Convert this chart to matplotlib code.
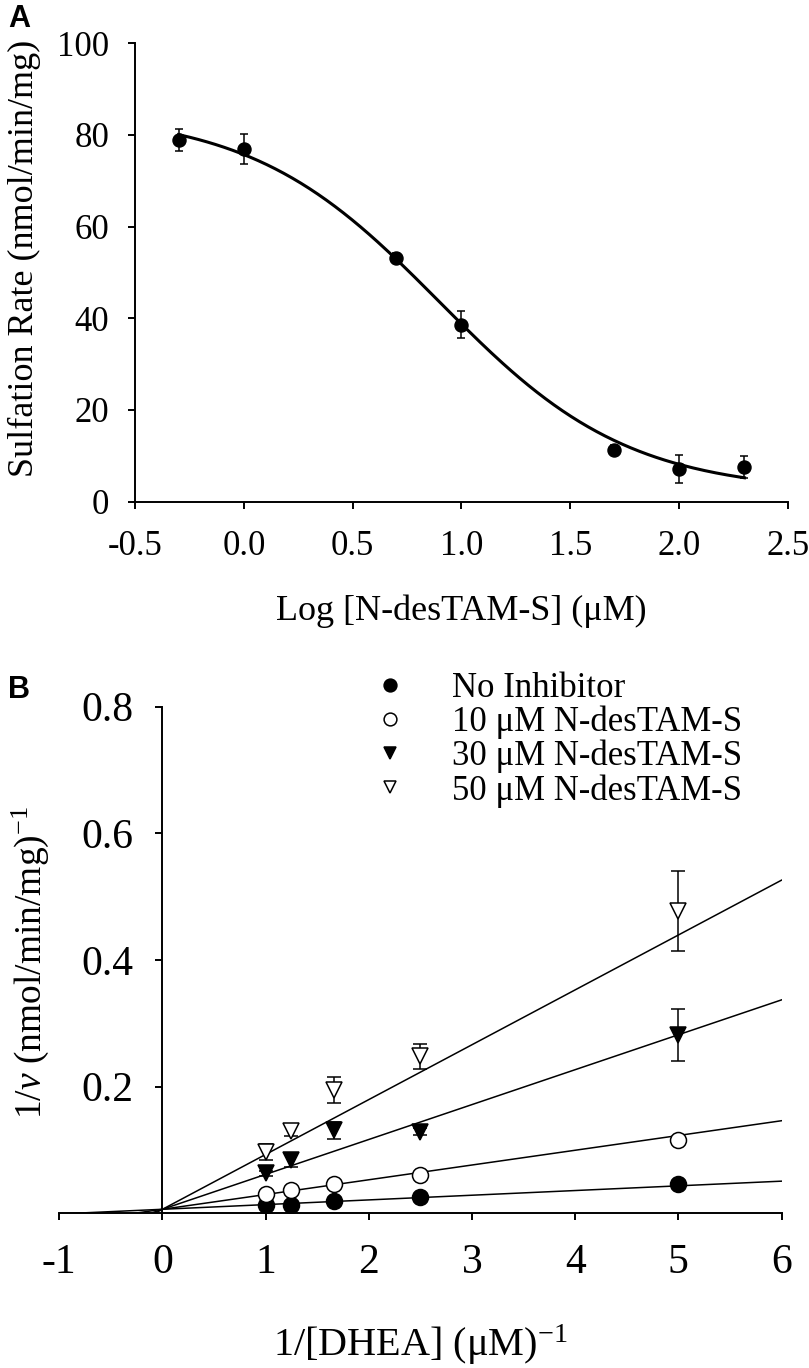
import numpy as np
import matplotlib
matplotlib.use('Agg')
import matplotlib.pyplot as plt

plt.rcParams['font.family'] = ['Liberation Serif', 'DejaVu Serif']
plt.rcParams['axes.unicode_minus'] = False
plt.rcParams['mathtext.fontset'] = 'custom'
plt.rcParams['mathtext.rm'] = 'Liberation Serif'
plt.rcParams['mathtext.it'] = 'Liberation Serif:italic'

# panel A: inhibition curve
log_conc = [-0.3, 0.0, 0.7, 1.0, 1.7, 2.0, 2.3]
rate = [78.9, 76.9, 53.2, 38.6, 11.3, 7.1, 7.5]
rate_err = [2.4, 3.3, 1.0, 2.9, 1.0, 3.0, 2.4]
# fitted sigmoid (top, bottom, log IC50, hill slope)
fit_top, fit_bottom, fit_logic50, fit_hill = 85.0, 2.0, 0.9, 1.0

# panel B: double reciprocal plot
inv_dhea = [1.0, 1.25, 1.667, 2.5, 5.0]
series_labels = ['No Inhibitor', '10 μM N-desTAM-S',
                 '30 μM N-desTAM-S', '50 μM N-desTAM-S']
inv_v_none = [0.014, 0.014, 0.020, 0.026, 0.047]
inv_v_10 = [0.031, 0.037, 0.046, 0.061, 0.116]
inv_v_30 = [0.063, 0.084, 0.131, 0.129, 0.282]
inv_v_50 = [0.097, 0.130, 0.195, 0.248, 0.478]
err_none = [0.002, 0.002, 0.002, 0.002, 0.003]
err_10 = [0.003, 0.003, 0.003, 0.004, 0.005]
err_30 = [0.004, 0.010, 0.014, 0.006, 0.041]
err_50 = [0.012, 0.008, 0.021, 0.020, 0.063]
fit_slopes = [0.0074, 0.0233, 0.0551, 0.0866]
fit_intercepts = [0.0065, 0.0065, 0.0065, 0.0065]

W, H = 809, 1368
fig = plt.figure(figsize=(W / 100, H / 100), dpi=100)


def box(left, right, top, bottom):
    return [left / W, 1 - bottom / H, (right - left) / W, (bottom - top) / H]


# ---------- panel A ----------
axA = fig.add_axes(box(135, 788, 43.3, 501.5))
xs = np.linspace(log_conc[0], log_conc[-1], 200)
curve = fit_bottom + (fit_top - fit_bottom) / (1 + 10 ** ((xs - fit_logic50) * fit_hill))
axA.plot(xs, curve, color='black', lw=2.2)
axA.errorbar(log_conc, rate, yerr=rate_err, fmt='o', color='black',
             ms=9.4, elinewidth=1.1, capsize=3.2, capthick=1.1)
axA.set_xlim(-0.5, 2.5)
axA.set_ylim(0, 100)
axA.set_xticks([-0.5, 0.0, 0.5, 1.0, 1.5, 2.0, 2.5])
axA.set_xticklabels(['%.1f' % v for v in axA.get_xticks()])
axA.set_yticks([0, 20, 40, 60, 80, 100])
for s in ['top', 'right']:
    axA.spines[s].set_visible(False)
for s in ['left', 'bottom']:
    axA.spines[s].set_linewidth(1.4)
axA.tick_params(axis='both', direction='out', length=4.7, width=1.4, labelsize=25)
axA.tick_params(axis='y', pad=14)
axA.tick_params(axis='x', pad=16)
fig.text(24 / W, 1 - 258 / H, 'Sulfation Rate (nmol/min/mg)', rotation=90,
         ha='center', va='center', fontsize=26)
fig.text(461 / W, 1 - 611 / H, 'Log [N-desTAM-S] (μM)', ha='center', va='center',
         fontsize=26)
fig.text(8 / W, 1 - 19 / H, 'A', family='Liberation Sans', weight='bold',
         fontsize=22, ha='left', va='center')

# ---------- panel B ----------
axB = fig.add_axes(box(59.3, 781.5, 706.7, 1213.4))
series_y = [inv_v_none, inv_v_10, inv_v_30, inv_v_50]
series_err = [err_none, err_10, err_30, err_50]
markers = ['o', 'o', 'v', 'v']
faces = ['black', 'white', 'black', 'white']
line_x = np.array([-1.0, 6.0])
for slope, icpt in zip(fit_slopes, fit_intercepts):
    axB.plot(line_x, icpt + slope * line_x, color='black', lw=1.1, zorder=1)
for y, e, m, fc, lab in zip(series_y, series_err, markers, faces, series_labels):
    axB.errorbar(inv_dhea, y, yerr=e, fmt='none', ecolor='black',
                 elinewidth=1.1, capsize=5, capthick=1.1, zorder=2)
    axB.plot(inv_dhea, y, linestyle='none', marker=m, ms=11.5, mfc=fc,
             mec='black', mew=1.1, label=lab, zorder=3)
axB.set_xlim(-1, 6)
axB.set_ylim(0, 0.8)
axB.set_xticks([-1, 0, 1, 2, 3, 4, 5, 6])
axB.set_yticks([0.2, 0.4, 0.6, 0.8])
axB.set_yticklabels(['0.2', '0.4', '0.6', '0.8'])
for s in ['top', 'right']:
    axB.spines[s].set_visible(False)
axB.spines['left'].set_position(('data', 0))
for s in ['left', 'bottom']:
    axB.spines[s].set_linewidth(1.4)
axB.tick_params(axis='both', direction='out', length=5, width=1.4, labelsize=30)
axB.tick_params(axis='y', pad=16)
axB.tick_params(axis='x', pad=17)
fig.text(30 / W, 1 - 962 / H, r'1/$\nu$ (nmol/min/mg)$^{-1}$', rotation=90,
         ha='center', va='center', fontsize=27)
fig.text(420 / W, 1 - 1345 / H, r'1/[DHEA] (μM)$^{-1}$', ha='center', va='center',
         fontsize=29)
fig.text(8 / W, 1 - 690 / H, 'B', family='Liberation Sans', weight='bold',
         fontsize=22, ha='left', va='center')

axB.legend(loc='upper left', bbox_to_anchor=(372.6 / W, 1 - 672 / H),
           bbox_transform=fig.transFigure, frameon=False, fontsize=25,
           borderpad=0, borderaxespad=0, handlelength=1.0, handletextpad=1.29,
           labelspacing=0.02, markerscale=0.8)

fig.savefig('out.png', dpi=100)
